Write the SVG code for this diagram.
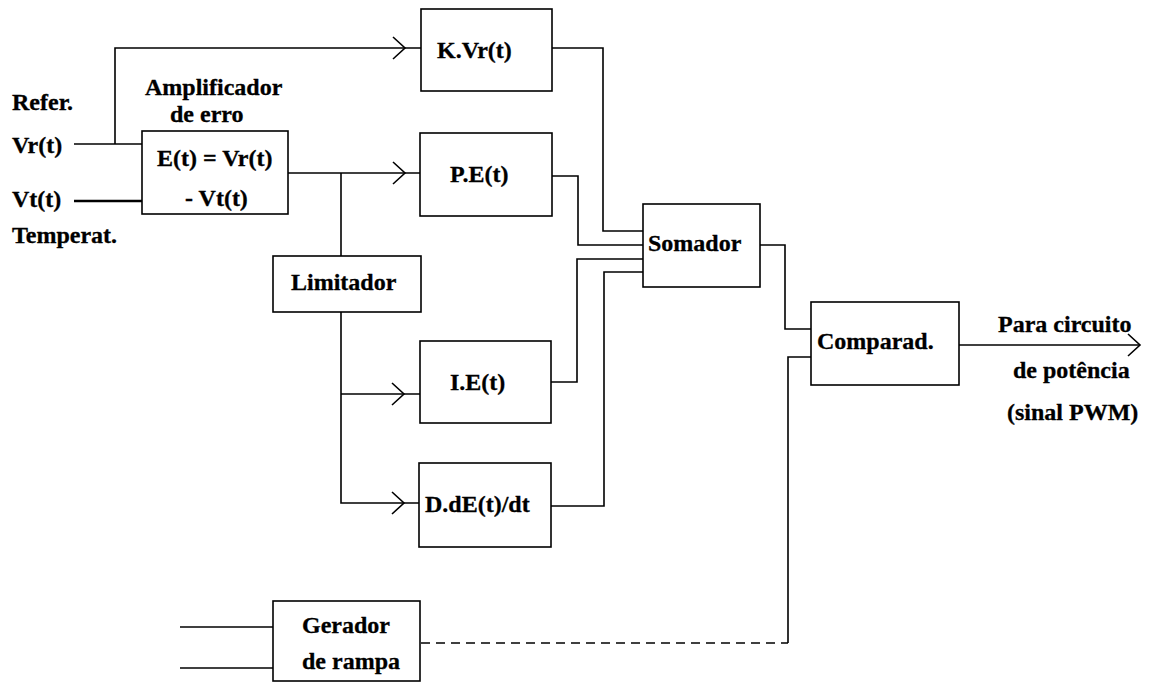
<svg xmlns="http://www.w3.org/2000/svg" xmlns:xlink="http://www.w3.org/1999/xlink" width="1150" height="683" viewBox="0 0 1150 683">
<style>
.box{fill:#fff;stroke:#000;stroke-width:1.6}
.ln{fill:none;stroke:#000;stroke-width:1.6}
.thick{stroke-width:2.6}
.dash{stroke-dasharray:9 6}
.t{font-family:"Liberation Serif","Times New Roman",serif;font-weight:bold;font-size:24px;fill:#000;stroke:#000;stroke-width:0.3}
</style>
<defs>
<path id="chev" d="M-12,-11 L0,0 L-12,11" fill="none" stroke="#000" stroke-width="1.6"/>
</defs>
<rect width="1150" height="683" fill="#fff"/>
<g id="connectors">
<line class="ln" x1="74" y1="144" x2="142" y2="144"/>
<line class="ln thick" x1="74" y1="201" x2="142" y2="201"/>
<polyline class="ln" points="115,144 115,48 421,48"/>
<use xlink:href="#chev" href="#chev" x="405" y="48"/>
<line class="ln" x1="288" y1="173" x2="420" y2="173"/>
<use xlink:href="#chev" href="#chev" x="405" y="173"/>
<line class="ln" x1="341" y1="173" x2="341" y2="256"/>
<polyline class="ln" points="341,312 341,503 419,503"/>
<use xlink:href="#chev" href="#chev" x="404" y="503"/>
<line class="ln" x1="341" y1="394" x2="420" y2="394"/>
<use xlink:href="#chev" href="#chev" x="404" y="394"/>
<polyline class="ln" points="552,48 603,48 603,231 643,231"/>
<polyline class="ln" points="552,176 578,176 578,245 643,245"/>
<polyline class="ln" points="551,382 577,382 577,259 643,259"/>
<polyline class="ln" points="551,506 604,506 604,272 643,272"/>
<polyline class="ln" points="760,245 785,245 785,329 811,329"/>
<line class="ln dash" x1="421" y1="643" x2="788" y2="643"/>
<polyline class="ln" points="788,643 788,357 811,357"/>
<line class="ln" x1="959" y1="345" x2="1139" y2="345"/>
<use xlink:href="#chev" href="#chev" x="1140" y="345"/>
<line class="ln" x1="180" y1="627" x2="273" y2="627"/>
<line class="ln" x1="180" y1="668" x2="273" y2="668"/>
</g>
<g id="labels">
<text class="t" x="12" y="110">Refer.</text>
<text class="t" x="12" y="153">Vr(t)</text>
<text class="t" x="12" y="207">Vt(t)</text>
<text class="t" x="12" y="243">Temperat.</text>
<text class="t" x="145" y="95">Amplificador</text>
<text class="t" x="170" y="122">de erro</text>
<text class="t" x="998" y="332">Para circuito</text>
<text class="t" x="1013" y="378">de potência</text>
<text class="t" x="1007" y="420">(sinal PWM)</text>
</g>
<g id="amp">
<rect class="box" x="142" y="131" width="146" height="83"/>
<text class="t" x="157" y="166">E(t) = Vr(t)</text>
<text class="t" x="185" y="206">- Vt(t)</text>
</g>
<g id="kvr">
<rect class="box" x="421" y="9" width="131" height="82"/>
<text class="t" x="437" y="58">K.Vr(t)</text>
</g>
<g id="pe">
<rect class="box" x="420" y="133" width="132" height="83"/>
<text class="t" x="450" y="182">P.E(t)</text>
</g>
<g id="limitador">
<rect class="box" x="273" y="256" width="148" height="56"/>
<text class="t" x="291" y="290">Limitador</text>
</g>
<g id="ie">
<rect class="box" x="420" y="341" width="131" height="82"/>
<text class="t" x="450" y="390">I.E(t)</text>
</g>
<g id="de">
<rect class="box" x="419" y="463" width="132" height="84"/>
<text class="t" x="425" y="512">D.dE(t)/dt</text>
</g>
<g id="somador">
<rect class="box" x="643" y="204" width="117" height="83"/>
<text class="t" x="648" y="251">Somador</text>
</g>
<g id="comparad">
<rect class="box" x="811" y="302" width="148" height="83"/>
<text class="t" x="817" y="349">Comparad.</text>
</g>
<g id="gerador">
<rect class="box" x="273" y="601" width="147" height="80"/>
<text class="t" x="302" y="633">Gerador</text>
<text class="t" x="302" y="669">de rampa</text>
</g>
</svg>
